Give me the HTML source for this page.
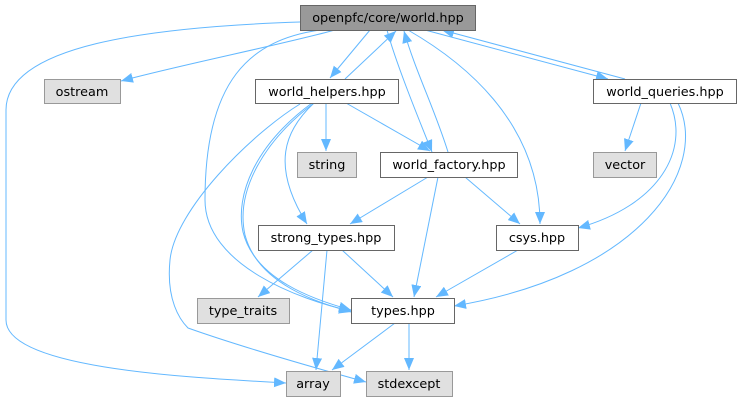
<!DOCTYPE html>
<html><head><meta charset="utf-8"><style>
html,body{margin:0;padding:0;background:#fff;}
svg{display:block;}
text{font-family:"DejaVu Sans","Liberation Sans",sans-serif;font-size:12.8px;fill:#000;}
</style></head><body>
<svg width="740" height="403" viewBox="0 0 740 403" xmlns="http://www.w3.org/2000/svg">
<defs>
<marker id="a" viewBox="0 0 12 10" refX="12" refY="5" markerWidth="12" markerHeight="10" markerUnits="userSpaceOnUse" orient="auto">
<path d="M0,0 L12,5 L0,10 z" fill="#63b8ff"/>
</marker>
</defs>
<g fill="none" stroke="#63b8ff" stroke-width="1" marker-end="url(#a)">
<path d="M335,30 C280,45 180,65 121,81"/>
<path d="M300,22 C150,27 6,45 6,110 L6,320 C6,370 200,378 286,383"/>
<path d="M370,30 L330,78"/>
<path d="M345,79 L396,31"/>
<path d="M320,30 C250,40 205,80 205,200 C205,265 300,300 351,311"/>
<path d="M387,30 C395,60 415,110 432,152"/>
<path d="M448,152 C435,110 415,70 404,31"/>
<path d="M408,30 C460,60 540,120 540,224"/>
<path d="M425,30 L608,79"/>
<path d="M625,79 L442,30"/>
<path d="M326,103 L326,151"/>
<path d="M346,103 L430,151"/>
<path d="M314,103 C285,130 270,165 307,224"/>
<path d="M314,103 C265,140 235,190 245,235 C258,285 320,303 351,312"/>
<path d="M300,104 C250,135 175,210 170,260 C166,300 180,320 188,328 C250,350 330,372 366,382"/>
<path d="M312,103 C255,145 235,195 243,232 C255,280 315,300 351,310"/>
<path d="M428,177 L350,224"/>
<path d="M438,177 L414,297"/>
<path d="M465,177 L520,224"/>
<path d="M641,103 L625,151"/>
<path d="M670,103 C690,150 660,205 578,228"/>
<path d="M678,103 C710,170 640,275 454,306"/>
<path d="M313,250 L258,297"/>
<path d="M327,250 L316,370"/>
<path d="M342,250 L393,297"/>
<path d="M518,250 L436,297"/>
<path d="M395,323 L332,370"/>
<path d="M409,323 L409,370"/>
</g>
<g stroke-width="1">
<rect x="300.5" y="5.5" width="175" height="25" fill="#999" stroke="#666"/>
<rect x="44.5" y="79.5" width="76" height="24" fill="#e0e0e0" stroke="#999"/>
<rect x="255.5" y="79.5" width="143" height="24" fill="#fff" stroke="#666"/>
<rect x="593.5" y="79.5" width="143" height="24" fill="#fff" stroke="#666"/>
<rect x="297.5" y="152.5" width="59" height="25" fill="#e0e0e0" stroke="#999"/>
<rect x="380.5" y="152.5" width="137" height="25" fill="#fff" stroke="#666"/>
<rect x="593.5" y="152.5" width="63" height="25" fill="#e0e0e0" stroke="#999"/>
<rect x="258.5" y="225.5" width="136" height="25" fill="#fff" stroke="#666"/>
<rect x="496.5" y="225.5" width="82" height="25" fill="#fff" stroke="#666"/>
<rect x="197.5" y="298.5" width="92" height="25" fill="#e0e0e0" stroke="#999"/>
<rect x="351.5" y="298.5" width="103" height="25" fill="#fff" stroke="#666"/>
<rect x="286.5" y="371.5" width="54" height="25" fill="#e0e0e0" stroke="#999"/>
<rect x="366.5" y="371.5" width="86" height="25" fill="#e0e0e0" stroke="#999"/>
</g>
<g text-anchor="middle">
<text x="388" y="22">openpfc/core/world.hpp</text>
<text x="82" y="96">ostream</text>
<text x="327" y="96">world_helpers.hpp</text>
<text x="665" y="96">world_queries.hpp</text>
<text x="327" y="169">string</text>
<text x="449" y="169">world_factory.hpp</text>
<text x="625" y="169">vector</text>
<text x="326" y="242">strong_types.hpp</text>
<text x="537" y="242">csys.hpp</text>
<text x="243" y="315">type_traits</text>
<text x="403" y="315">types.hpp</text>
<text x="313" y="388">array</text>
<text x="409" y="388">stdexcept</text>
</g>
</svg>
</body></html>
